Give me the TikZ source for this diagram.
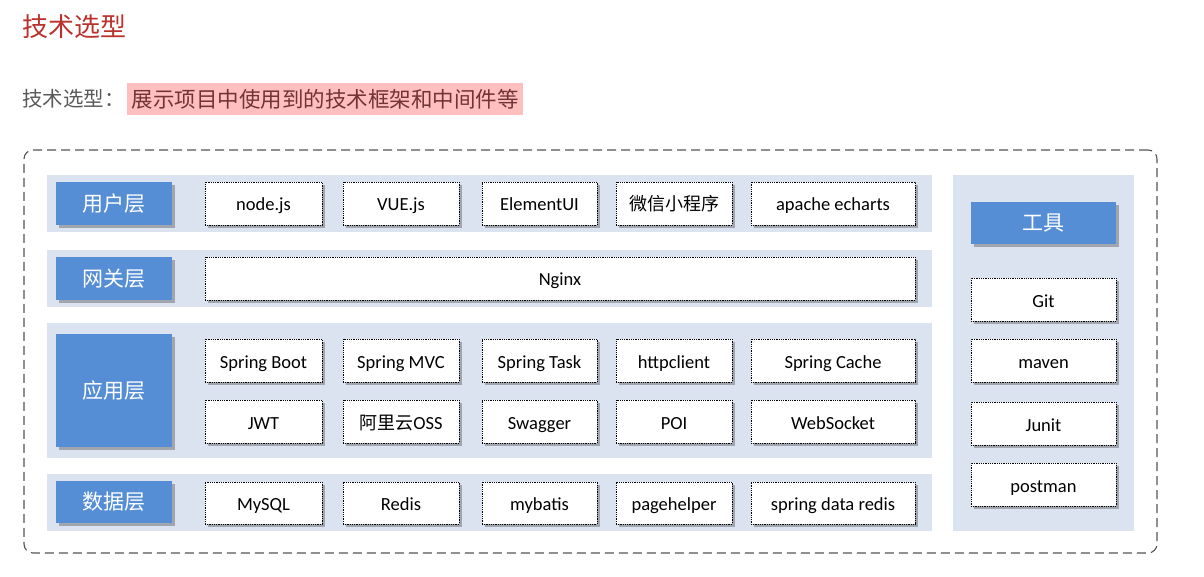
\documentclass[tikz,border=0pt]{standalone}
\usepackage{fontspec}
\setmainfont{Carlito}
\newfontfamily\cjk{Noto Sans CJK SC}
\usetikzlibrary{shadows}
\definecolor{bandc}{RGB}{219,227,240}
\definecolor{lblue}{RGB}{85,142,213}
\definecolor{titlered}{RGB}{185,50,45}
\definecolor{pinkbg}{RGB}{255,191,191}
\definecolor{subgray}{RGB}{89,89,89}
\definecolor{hltext}{RGB}{112,52,52}
\definecolor{outerc}{RGB}{85,85,85}
\tikzset{
  myshadow/.style={drop shadow={shadow xshift=3pt,shadow yshift=-3pt,opacity=0.4,fill=black!70}},
  bandbox/.style={fill=bandc, draw=none},
  lbl/.style={fill=lblue, draw=none, text=white, font=\cjk\fontsize{21}{24}\selectfont, text height=18pt, text depth=2.5pt, myshadow},
  tbox/.style={fill=white, draw=black, densely dotted, line width=0.8pt, font=\fontsize{18.5}{22}\selectfont, text height=18pt, text depth=3pt, myshadow},
  outerbox/.style={draw=outerc, line width=1.1pt, dash pattern=on 9pt off 5pt, rounded corners=9pt, fill=none},
}
\newcommand\bx[7]{\node[#6, inner sep=0pt, outer sep=0pt, minimum width={(#4-#2)*1pt}, minimum height={(#5-#3)*1pt}] (#1) at ({(#2+#4)/2},{(#3+#5)/2}) {#7};}
\begin{document}
\begin{tikzpicture}[x=1pt,y=-1pt]
\useasboundingbox (0,0) rectangle (1204,577);
% title
\node[anchor=west, inner sep=0pt, text=titlered, font=\cjk\fontsize{26}{30}\selectfont] (title) at (22,27) {技术选型};
\node[anchor=west, inner sep=0pt, text=subgray, font=\cjk\fontsize{20.5}{24}\selectfont] (sub) at (22,99) {技术选型：};
\bx{hl}{127}{83}{523}{115}{fill=pinkbg, text=hltext, font=\cjk\fontsize{21.5}{24}\selectfont}{展示项目中使用到的技术框架和中间件等}
% outer frame
\bx{outer}{24}{150}{1157}{553}{outerbox}{}
% bands
\bx{band1}{47}{175}{932}{232}{bandbox}{}
\bx{band2}{47}{250}{932}{307}{bandbox}{}
\bx{band3}{47}{323}{932}{458}{bandbox}{}
\bx{band4}{47}{474}{932}{531}{bandbox}{}
\bx{bandt}{953}{175}{1134}{531}{bandbox}{}
% layer labels
\bx{l1}{56}{182}{172}{225}{lbl}{用户层}
\bx{l2}{56}{257}{172}{300}{lbl}{网关层}
\bx{l3}{56}{334}{172}{447}{lbl}{应用层}
\bx{l4}{56}{481}{172}{523}{lbl}{数据层}
\bx{lt}{971}{202}{1116}{244}{lbl}{工具}
% user layer
\bx{nodejs}{205}{182}{322}{225}{tbox}{node.js}
\bx{vuejs}{343}{182}{459}{225}{tbox}{VUE.js}
\bx{elementui}{482}{182}{597}{225}{tbox}{ElementUI}
\bx{wx}{616}{182}{732}{225}{tbox}{{\cjk\fontsize{18}{22}\selectfont 微信小程序}}
\bx{echarts}{751}{182}{915}{225}{tbox}{apache echarts}
% gateway
\bx{nginx}{205}{257}{915}{300}{tbox}{Nginx}
% application
\bx{sboot}{205}{339}{322}{382}{tbox}{Spring Boot}
\bx{smvc}{343}{339}{459}{382}{tbox}{Spring MVC}
\bx{stask}{482}{339}{597}{382}{tbox}{Spring Task}
\bx{httpc}{616}{339}{732}{382}{tbox}{httpclient}
\bx{scache}{751}{339}{915}{382}{tbox}{Spring Cache}
\bx{jwt}{205}{400}{322}{443}{tbox}{JWT}
\bx{oss}{343}{400}{459}{443}{tbox}{{\cjk\fontsize{18}{22}\selectfont 阿里云}OSS}
\bx{swagger}{482}{400}{597}{443}{tbox}{Swagger}
\bx{poi}{616}{400}{732}{443}{tbox}{POI}
\bx{websocket}{751}{400}{915}{443}{tbox}{WebSocket}
% data
\bx{mysql}{205}{482}{322}{524}{tbox}{MySQL}
\bx{redis}{343}{482}{459}{524}{tbox}{Redis}
\bx{mybatis}{482}{482}{597}{524}{tbox}{mybatis}
\bx{pagehelper}{616}{482}{732}{524}{tbox}{pagehelper}
\bx{sdr}{751}{482}{915}{524}{tbox}{spring data redis}
% tools
\bx{git}{971}{278}{1116}{321}{tbox}{Git}
\bx{maven}{971}{339}{1116}{382}{tbox}{maven}
\bx{junit}{971}{402}{1116}{445}{tbox}{Junit}
\bx{postman}{971}{463}{1116}{506}{tbox}{postman}
\end{tikzpicture}
\end{document}
